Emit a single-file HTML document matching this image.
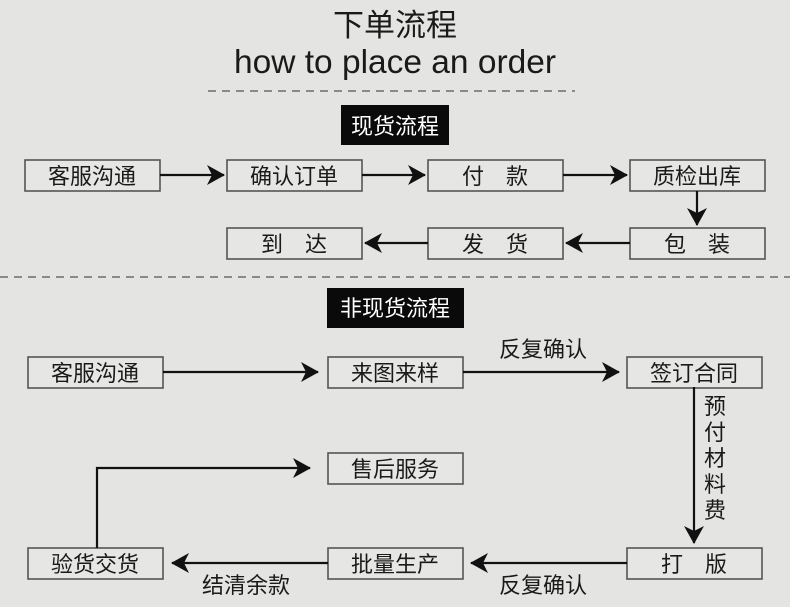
<!DOCTYPE html>
<html><head><meta charset="utf-8"><style>
html,body{margin:0;padding:0;background:#e4e4e2;}
svg{display:block}
text{font-family:"Liberation Sans","Noto Sans CJK SC",sans-serif;fill:#1a1a1a}
</style></head><body>
<svg width="790" height="607" viewBox="0 0 790 607" xmlns="http://www.w3.org/2000/svg">
<defs>
<marker id="a" markerWidth="18" markerHeight="20" refX="17" refY="10" orient="auto" markerUnits="userSpaceOnUse">
<path d="M0,0 L18,10 L0,20 L5,10 Z" fill="#111"/></marker>
</defs>
<rect width="790" height="607" fill="#e4e4e2"/>
<text x="395" y="36" font-size="31" text-anchor="middle">下单流程</text>
<text x="395" y="73" font-size="33" text-anchor="middle" textLength="322" lengthAdjust="spacingAndGlyphs">how to place an order</text>
<line x1="208" y1="91" x2="575" y2="91" stroke="#555" stroke-width="1.3" stroke-dasharray="8,6"/>
<rect x="341" y="105" width="108" height="40" fill="#0a0a0a"/>
<text x="395" y="134" font-size="22" text-anchor="middle" style="fill:#fff">现货流程</text>
<line x1="0" y1="277" x2="790" y2="277" stroke="#555" stroke-width="1.3" stroke-dasharray="8,6"/>
<rect x="327" y="288" width="137" height="40" fill="#0a0a0a"/>
<text x="395" y="316" font-size="22" text-anchor="middle" style="fill:#fff">非现货流程</text>
<g fill="#e6e6e4" stroke="#555" stroke-width="1.6">
<rect x="25" y="160" width="135" height="31"/>
<rect x="227" y="160" width="135" height="31"/>
<rect x="428" y="160" width="135" height="31"/>
<rect x="630" y="160" width="135" height="31"/>
<rect x="227" y="228" width="135" height="31"/>
<rect x="428" y="228" width="135" height="31"/>
<rect x="630" y="228" width="135" height="31"/>
<rect x="28" y="357" width="135" height="31"/>
<rect x="328" y="357" width="135" height="31"/>
<rect x="627" y="357" width="135" height="31"/>
<rect x="328" y="453" width="135" height="31"/>
<rect x="28" y="548" width="135" height="31"/>
<rect x="328" y="548" width="135" height="31"/>
<rect x="627" y="548" width="135" height="31"/>
</g>
<g font-size="22" text-anchor="middle">
<text x="92" y="184">客服沟通</text>
<text x="294" y="184">确认订单</text>
<text x="495" y="184">付　款</text>
<text x="697" y="184">质检出库</text>
<text x="294" y="252">到　达</text>
<text x="495" y="252">发　货</text>
<text x="697" y="252">包　装</text>
<text x="95" y="381">客服沟通</text>
<text x="395" y="381">来图来样</text>
<text x="694" y="381">签订合同</text>
<text x="395" y="477">售后服务</text>
<text x="95" y="572">验货交货</text>
<text x="395" y="572">批量生产</text>
<text x="694" y="572">打　版</text>
<text x="543" y="357">反复确认</text>
<text x="543" y="593">反复确认</text>
<text x="246" y="593">结清余款</text>
<text x="715" y="414">预</text>
<text x="715" y="440">付</text>
<text x="715" y="466">材</text>
<text x="715" y="492">料</text>
<text x="715" y="518">费</text>
</g>
<g stroke="#111" stroke-width="2.2" fill="none" marker-end="url(#a)">
<line x1="160" y1="175" x2="224" y2="175"/>
<line x1="362" y1="175" x2="425" y2="175"/>
<line x1="563" y1="175" x2="627" y2="175"/>
<line x1="697" y1="191" x2="697" y2="225"/>
<line x1="630" y1="243" x2="566" y2="243"/>
<line x1="428" y1="243" x2="365" y2="243"/>
<line x1="163" y1="372" x2="318" y2="372"/>
<line x1="463" y1="372" x2="619" y2="372"/>
<line x1="694" y1="387" x2="694" y2="543"/>
<line x1="627" y1="563" x2="471" y2="563"/>
<line x1="328" y1="563" x2="172" y2="563"/>
<polyline points="97,548 97,468 310,468"/>
</g>
</svg>
</body></html>
